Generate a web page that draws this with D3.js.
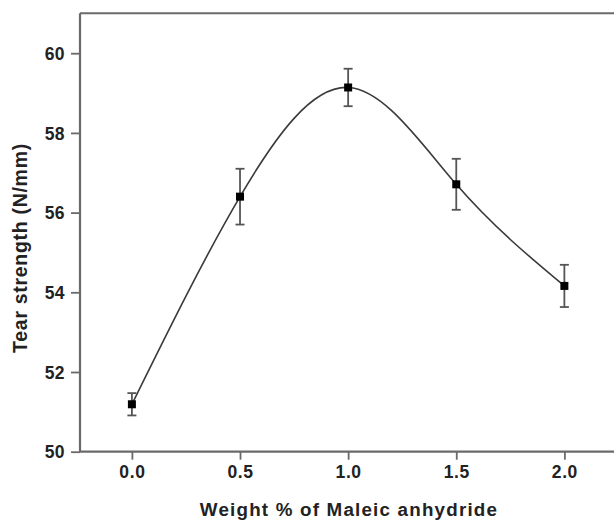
<!DOCTYPE html>
<html>
<head>
<meta charset="utf-8">
<script src="https://cdn.jsdelivr.net/npm/d3@7"></script>
<style>
  html, body { margin: 0; padding: 0; background: #fff; }
  svg { display: block; }
  text { font-family: "Liberation Sans", Arial, sans-serif; fill: #222; }
</style>
</head>
<body>
<svg id="chart" width="614" height="522"></svg>
<script>
const maleic = [0.0, 0.5, 1.0, 1.5, 2.0];
const tearStrength = [51.19, 56.40, 59.14, 56.71, 54.16];
const errorBars = [0.28, 0.70, 0.47, 0.64, 0.53];
const xTicks = [0.0, 0.5, 1.0, 1.5, 2.0];
const yTicks = [50, 52, 54, 56, 58, 60];
const xTitle = "Weight % of Maleic anhydride";
const yTitle = "Tear strength (N/mm)";

const data = maleic.map((x, i) => ({ x, y: tearStrength[i], e: errorBars[i] }));

const svg = d3.select("#chart");
const x = d3.scaleLinear().domain([-0.24, 2.26]).range([80, 620.6]);
const y = d3.scaleLinear().domain([50, 61]).range([451.7, 13.35]);

const axisColor = "#6a6a6a";

// frame top line
svg.append("line")
  .attr("x1", x.range()[0]).attr("x2", 614)
  .attr("y1", y(61)).attr("y2", y(61))
  .attr("stroke", axisColor).attr("stroke-width", 2);

// x axis
const gx = svg.append("g").attr("transform", `translate(0,${y(50)})`)
  .call(d3.axisBottom(x).tickValues(xTicks).tickFormat(d3.format(".1f")).tickSize(8).tickPadding(6));
gx.select(".domain").attr("stroke", axisColor).attr("stroke-width", 2.2)
  .attr("d", `M${x.range()[0]},0H614`);
gx.selectAll(".tick line").attr("stroke", axisColor).attr("stroke-width", 1.8);
gx.selectAll(".tick text").attr("font-size", 17.5).attr("font-weight", "bold")
  .attr("fill", "#222").style("letter-spacing", "0.6px");

// y axis
const gy = svg.append("g").attr("transform", `translate(${x(-0.24)},0)`)
  .call(d3.axisLeft(y).tickValues(yTicks).tickFormat(d3.format("d")).tickSize(9).tickPadding(6));
gy.select(".domain").attr("stroke", axisColor).attr("stroke-width", 2.2)
  .attr("d", `M0,${y(50)}V${y(61)}`);
gy.selectAll(".tick line").attr("stroke", axisColor).attr("stroke-width", 1.8);
gy.selectAll(".tick text").attr("font-size", 17.5).attr("font-weight", "bold")
  .attr("fill", "#222").attr("dy", "0.35em").style("letter-spacing", "0.4px");

// curve
const line = d3.line().x(d => x(d.x)).y(d => y(d.y)).curve(d3.curveNatural);
svg.append("path").datum(data)
  .attr("d", line).attr("fill", "none").attr("stroke", "#3a3a3a").attr("stroke-width", 1.6);

// error bars
const eb = svg.append("g").attr("stroke", "#555").attr("stroke-width", 1.8);
eb.selectAll("line.v").data(data).join("line").attr("class", "v")
  .attr("x1", d => x(d.x)).attr("x2", d => x(d.x))
  .attr("y1", d => y(d.y + d.e)).attr("y2", d => y(d.y - d.e));
eb.selectAll("line.t").data(data).join("line").attr("class", "t")
  .attr("x1", d => x(d.x) - 4.5).attr("x2", d => x(d.x) + 4.5)
  .attr("y1", d => y(d.y + d.e)).attr("y2", d => y(d.y + d.e));
eb.selectAll("line.b").data(data).join("line").attr("class", "b")
  .attr("x1", d => x(d.x) - 4.5).attr("x2", d => x(d.x) + 4.5)
  .attr("y1", d => y(d.y - d.e)).attr("y2", d => y(d.y - d.e));

// markers
svg.append("g").selectAll("rect").data(data).join("rect")
  .attr("x", d => x(d.x) - 4).attr("y", d => y(d.y) - 4)
  .attr("width", 8).attr("height", 8).attr("fill", "#000");

// titles
svg.append("text").attr("x", 349).attr("y", 516).attr("text-anchor", "middle")
  .attr("font-size", 18.8).attr("font-weight", "bold").style("letter-spacing", "1.2px")
  .text(xTitle);
svg.append("text").attr("transform", `translate(27,248) rotate(-90)`)
  .attr("text-anchor", "middle")
  .attr("font-size", 19.5).attr("font-weight", "bold").style("letter-spacing", "0.7px")
  .text(yTitle);
</script>
</body>
</html>
